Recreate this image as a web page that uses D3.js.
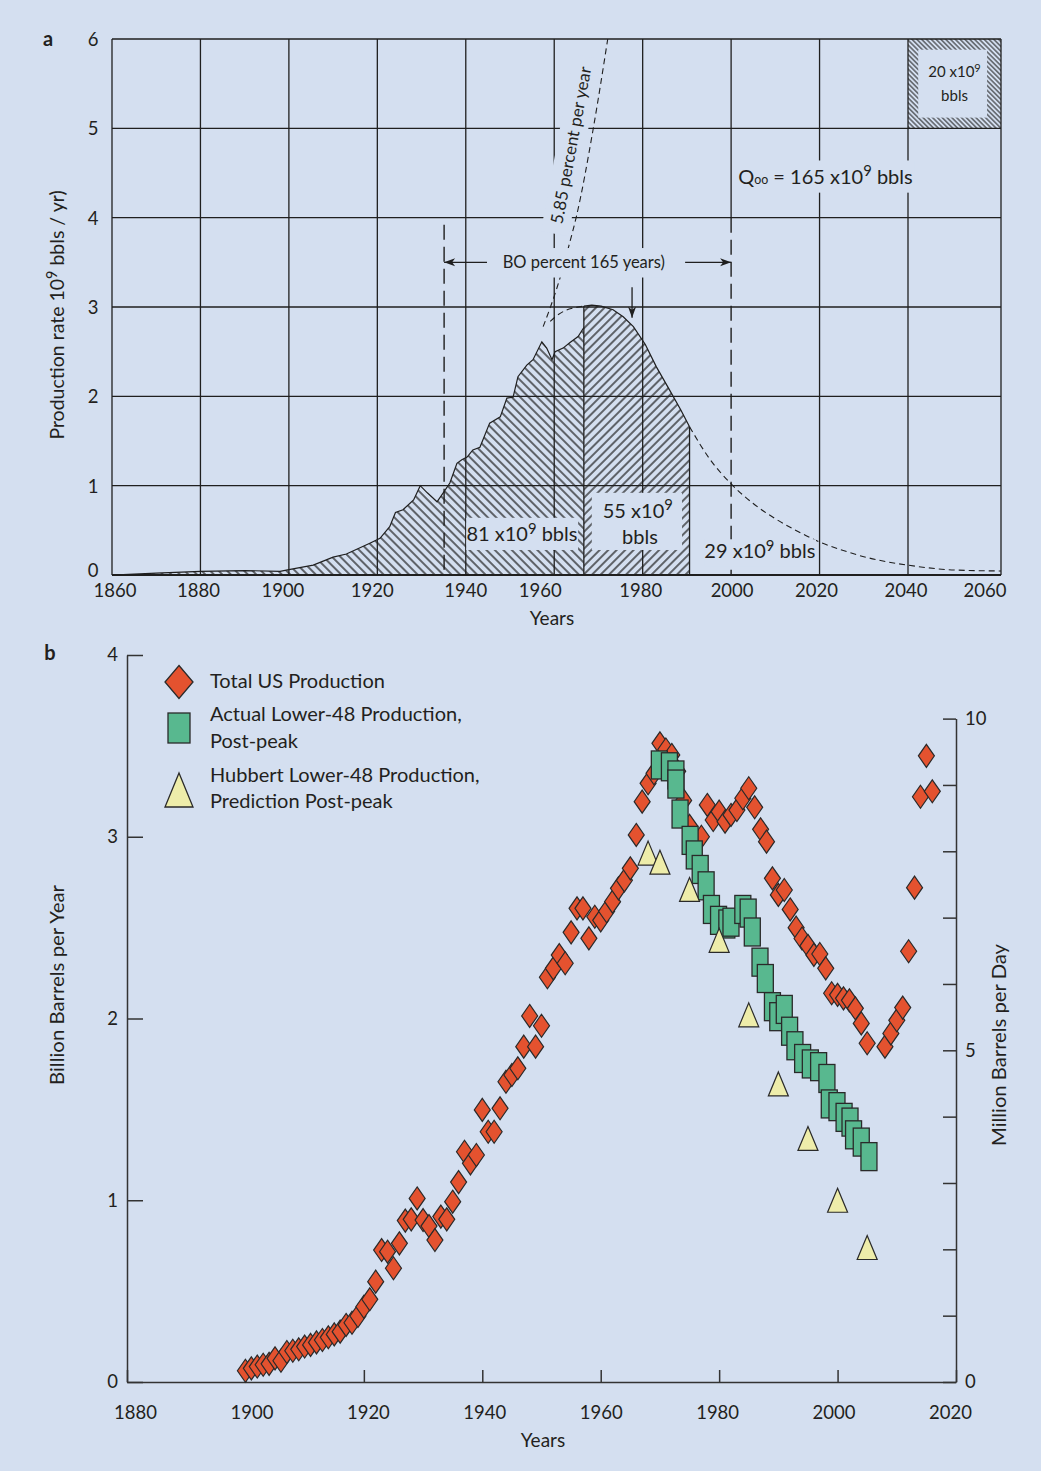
<!DOCTYPE html>
<html lang="en">
<head>
<meta charset="utf-8">
<title>US oil production and the Hubbert curve</title>
<script src="https://cdn.jsdelivr.net/npm/d3@7/dist/d3.min.js"></script>
<style>
  html, body { margin: 0; padding: 0; background: #ffffff; }
  svg { display: block; }
  text { font-family: Lato, "Noto Sans", "DejaVu Sans", sans-serif; fill: #231f20; }
</style>
</head>
<body>
<svg id="figure" width="1041" height="1471"></svg>
<script>
// ---------- Panel a: production rate and Hubbert's projection ----------
const gridYears = [1860, 1880, 1900, 1920, 1940, 1960, 1980, 2000, 2020, 2040, 2060];
const rateTicks = [0, 1, 2, 3, 4, 5, 6];

// historical production rate (10^9 bbl/yr), upper edge of the first hatched area
const histYears = [1860, 1870, 1880, 1890, 1898, 1900, 1905.5, 1910, 1913, 1918.3, 1920.6, 1922.8, 1924.1,
  1925.8, 1928.2, 1929.7, 1931.3, 1933.5, 1934.9, 1936.4, 1938, 1939.1, 1940.3, 1941.6, 1943.2, 1945.4,
  1947.8, 1949.3, 1950.7, 1951.8, 1953.8, 1955.2, 1957.2, 1958.3, 1959.5, 1960.2, 1962, 1963.5, 1965.4, 1966.7];
const histRates = [0, 0.02, 0.04, 0.05, 0.04, 0.06, 0.11, 0.2, 0.235, 0.355, 0.41, 0.54, 0.7,
  0.73, 0.84, 1.0, 0.92, 0.82, 0.92, 1.03, 1.25, 1.29, 1.32, 1.4, 1.43, 1.7,
  1.77, 1.98, 1.99, 2.22, 2.35, 2.41, 2.61, 2.54, 2.41, 2.5, 2.54, 2.6, 2.67, 2.77];

// fitted curve, solid part bounding the second hatched area
const fitYears = [1966.7, 1968.5, 1970.6, 1973.3, 1975.6, 1977.9, 1980.6, 1983.1, 1986.1, 1988.6, 1990.6];
const fitRates = [3.01, 3.02, 3.01, 2.97, 2.89, 2.78, 2.58, 2.33, 2.07, 1.85, 1.66];

// projected decline (dashed)
const declineYears = [1990.6, 1995, 2000, 2005, 2010, 2015, 2020, 2025, 2030, 2035, 2040, 2050, 2060];
const declineRates = [1.66, 1.31, 1.02, 0.80, 0.63, 0.49, 0.37, 0.28, 0.205, 0.15, 0.11, 0.056, 0.045];

// fitted curve over the peak (dashed)
const domeYears = [1959.1, 1960.5, 1962.5, 1964.5, 1966.7];
const domeRates = [2.84, 2.9, 2.96, 2.99, 3.01];

// 5.85 percent per year growth line (dashed)
const growthYears = [1957.5, 1961.4, 1963.5, 1965, 1968.8, 1972.1];
const growthRates = [2.78, 3.34, 3.72, 4.01, 4.99, 6.0];

// ---------- Panel b: US production vs Hubbert's lower-48 prediction ----------
const totalYears = [1900, 1901, 1902, 1903, 1904, 1905, 1906, 1907, 1908, 1909, 1910, 1911, 1912, 1913, 1914,
  1915, 1916, 1917, 1918, 1919, 1920, 1921, 1922, 1923, 1924, 1925, 1926, 1927, 1928, 1929, 1930, 1931,
  1932, 1933, 1934, 1935, 1936, 1937, 1938, 1939, 1940, 1941, 1942, 1943, 1944, 1945, 1946, 1947, 1948,
  1949, 1950, 1951, 1952, 1953, 1954, 1955, 1956, 1957, 1958, 1959, 1960, 1961, 1962, 1963, 1964, 1965,
  1966, 1967, 1968, 1969, 1970, 1971, 1972, 1973, 1974, 1975, 1976, 1977, 1978, 1979, 1980, 1981, 1982,
  1983, 1984, 1985, 1986, 1987, 1988, 1989, 1990, 1991, 1992, 1993, 1994, 1995, 1996, 1997, 1998, 1999,
  2000, 2001, 2002, 2003, 2004, 2005, 2008, 2009, 2010, 2011, 2012, 2013, 2014, 2015, 2016];
const totalBbl = [0.062, 0.075, 0.085, 0.095, 0.10, 0.13, 0.117, 0.165, 0.172, 0.18, 0.195, 0.204, 0.218, 0.231, 0.246,
  0.262, 0.277, 0.314, 0.326, 0.363, 0.414, 0.455, 0.552, 0.726, 0.717, 0.626, 0.763, 0.888, 0.895, 1.01, 0.891, 0.858,
  0.781, 0.91, 0.895, 0.992, 1.10, 1.267, 1.203, 1.249, 1.497, 1.377, 1.377, 1.506, 1.652, 1.689, 1.726, 1.845, 2.014,
  1.845, 1.96, 2.227, 2.276, 2.349, 2.304, 2.474, 2.606, 2.606, 2.441, 2.56, 2.54, 2.59, 2.643, 2.716, 2.76, 2.826,
  3.01, 3.193, 3.294, 3.349, 3.514, 3.48, 3.45, 3.36, 3.20, 3.06, 2.98, 3.00, 3.175, 3.092, 3.138, 3.083, 3.12,
  3.147, 3.212, 3.267, 3.162, 3.041, 2.973, 2.771, 2.68, 2.707, 2.60, 2.50, 2.44, 2.40, 2.35, 2.355, 2.276, 2.139,
  2.13, 2.111, 2.10, 2.056, 1.973, 1.864, 1.845, 1.918, 1.99, 2.06, 2.37, 2.72, 3.22, 3.445, 3.25];

const lower48Years = [1969.9, 1971.6, 1972.7, 1972.7, 1973.4, 1975.1, 1975.8, 1976.8, 1977.8, 1978.7, 1979.9,
  1981.3, 1982.0, 1984.0, 1984.9, 1985.6, 1986.9, 1987.8, 1989.0, 1989.9, 1991.0, 1991.9, 1992.8, 1994.1,
  1995.4, 1996.8, 1998.2, 1998.6, 1999.9, 2001.1, 2002.1, 2002.7, 2004.0, 2005.3];
const lower48Bbl = [3.395, 3.385, 3.34, 3.29, 3.125, 2.98, 2.90, 2.82, 2.73, 2.60, 2.54,
  2.52, 2.53, 2.60, 2.58, 2.476, 2.31, 2.22, 2.065, 2.01, 2.05, 1.93, 1.85, 1.78,
  1.75, 1.735, 1.67, 1.53, 1.515, 1.456, 1.43, 1.36, 1.32, 1.24];

const hubbertYears = [1968, 1970, 1975, 1980, 1985, 1990, 1995, 2000, 2005];
const hubbertBbl = [2.91, 2.86, 2.71, 2.43, 2.02, 1.64, 1.34, 1.00, 0.74];

const yearTicksB = [1880, 1900, 1920, 1940, 1960, 1980, 2000, 2020];
const bblTicks = [0, 1, 2, 3, 4];
const mbdTicks = [0, 1, 2, 3, 4, 5, 6, 7, 8, 9, 10];

// ---------- drawing ----------
const BG = "#d4dff0", INK = "#1f1f1f";
const svg = d3.select("#figure");
svg.append("rect").attr("width", 1041).attr("height", 1471).attr("fill", BG);

const defs = svg.append("defs");
function addHatch(id, gap, angle, width) {
  const p = defs.append("pattern").attr("id", id)
    .attr("patternUnits", "userSpaceOnUse")
    .attr("width", gap).attr("height", 10)
    .attr("patternTransform", `rotate(${angle})`);
  p.append("line").attr("x1", gap / 2).attr("x2", gap / 2).attr("y1", -1).attr("y2", 11)
    .attr("stroke", INK).attr("stroke-width", width);
}
addHatch("hatch-back", 6.0, -45, 1.3);
addHatch("hatch-fwd", 6.0, 45, 1.3);
addHatch("hatch-fine", 3.4, -45, 1.0);

// text with superscripts / small runs
function richText(g, x, y, parts, size, anchor = "middle") {
  const t = g.append("text").attr("x", x).attr("y", y)
    .attr("font-size", size).attr("text-anchor", anchor);
  let shift = 0;
  parts.forEach(([s, kind]) => {
    const ts = t.append("tspan").text(s);
    if (kind === "sup") {
      const d = -0.36 * size;
      ts.attr("font-size", size * 0.74).attr("dy", d - shift);
      shift = d;
    } else if (kind === "small") {
      ts.attr("font-size", size * 0.62).attr("dy", -shift);
      shift = 0;
    } else {
      ts.attr("dy", -shift);
      shift = 0;
    }
  });
  return t;
}

// ===== Panel a =====
// the last column (2040-2060) is drawn slightly wider than the others
const xA = d3.scaleLinear().domain([1860, 2040, 2060]).range([112, 908, 1001]);
const yA = d3.scaleLinear().domain([0, 6]).range([575, 39]);
const a = svg.append("g");

const histPts = d3.zip(histYears, histRates);
const fitPts = d3.zip(fitYears, fitRates);
const areaA = d3.area().x(d => xA(d[0])).y0(yA(0)).y1(d => yA(d[1]));
const lineA = d3.line().x(d => xA(d[0])).y(d => yA(d[1]));

a.append("path").attr("d", areaA(histPts)).attr("fill", "url(#hatch-back)");
a.append("path").attr("d", areaA(fitPts)).attr("fill", "url(#hatch-fwd)");
a.append("rect")
  .attr("x", xA(2040)).attr("y", yA(6))
  .attr("width", xA(2060) - xA(2040)).attr("height", yA(5) - yA(6))
  .attr("fill", "url(#hatch-fine)");

// grid
a.append("g").selectAll("line").data(rateTicks).join("line")
  .attr("x1", xA(1860)).attr("x2", xA(2060))
  .attr("y1", d => yA(d)).attr("y2", d => yA(d))
  .attr("stroke", INK).attr("stroke-width", d => d === 0 ? 2 : 1.3);
a.append("g").selectAll("line").data(gridYears).join("line")
  .attr("x1", d => xA(d)).attr("x2", d => xA(d))
  .attr("y1", yA(6)).attr("y2", d => d === 2000 ? yA(4) : yA(0))
  .attr("stroke", INK).attr("stroke-width", 1.3);

// window limits (long dashes)
const windowLimits = [[1935.1, 3.92], [2000, 4.0]];
a.append("g").selectAll("line").data(windowLimits).join("line")
  .attr("x1", d => xA(d[0])).attr("x2", d => xA(d[0]))
  .attr("y1", d => yA(d[1])).attr("y2", yA(0))
  .attr("stroke", INK).attr("stroke-width", 1.4).attr("stroke-dasharray", "15,7");

// outlines of the hatched areas
a.append("path").attr("d", lineA(histPts)).attr("fill", "none").attr("stroke", INK).attr("stroke-width", 1.2);
a.append("path").attr("d", lineA(fitPts)).attr("fill", "none").attr("stroke", INK).attr("stroke-width", 1.2);
a.append("line").attr("x1", xA(fitYears[0])).attr("x2", xA(fitYears[0]))
  .attr("y1", yA(fitRates[0])).attr("y2", yA(0)).attr("stroke", INK).attr("stroke-width", 1.3);
const lastFit = fitYears.length - 1;
a.append("line").attr("x1", xA(fitYears[lastFit])).attr("x2", xA(fitYears[lastFit]))
  .attr("y1", yA(fitRates[lastFit])).attr("y2", yA(0)).attr("stroke", INK).attr("stroke-width", 1.3);

// dashed curves
const smoothA = d3.line().x(d => xA(d[0])).y(d => yA(d[1])).curve(d3.curveMonotoneX);
[[declineYears, declineRates], [domeYears, domeRates], [growthYears, growthRates]].forEach(([ys, vs]) => {
  a.append("path").attr("d", smoothA(d3.zip(ys, vs)))
    .attr("fill", "none").attr("stroke", INK).attr("stroke-width", 1.1).attr("stroke-dasharray", "6,4");
});

// label boxes (background colour over grid / hatching)
function bgBox(g, y0, y1, v0, v1) {
  g.append("rect").attr("x", xA(y0)).attr("y", yA(v1))
    .attr("width", xA(y1) - xA(y0)).attr("height", yA(v0) - yA(v1)).attr("fill", BG);
}
bgBox(a, 1940.1, 1965.4, 0.28, 0.64);
bgBox(a, 1968.5, 1988.9, 0.28, 0.92);
bgBox(a, 1993.9, 2019.2, 0.10, 0.40);
bgBox(a, 2001.1, 2041.5, 4.28, 4.64);
bgBox(a, 1947.3, 1986.2, 3.33, 3.66);
bgBox(a, 2042.2, 2057.0, 5.12, 5.88);

richText(a, xA(1952.7), yA(0.46) + 7, [["81 x10"], ["9", "sup"], [" bbls"]], 20);
richText(a, xA(1978.9), yA(0.72) + 7, [["55 x10"], ["9", "sup"]], 20);
richText(a, xA(1979.4), yA(0.43) + 7, [["bbls"]], 20);
richText(a, xA(2006.5), yA(0.27) + 7, [["29 x10"], ["9", "sup"], [" bbls"]], 20);
richText(a, xA(2001.6), yA(4.46) + 7, [["Q"], ["oo", "small"], [" = 165 x10"], ["9", "sup"], [" bbls"]], 20, "start");
richText(a, xA(2050), yA(5.63) + 5, [["20 x10"], ["9", "sup"]], 15);
richText(a, xA(2050), yA(5.36) + 5, [["bbls"]], 15);
richText(a, xA(1966.7), yA(3.5) + 6, [["BO percent 165 years)"]], 16.5);

// arrows
const arrowHead = (x, y, dir) => {
  const p = dir === "left" ? `M${x},${y}L${x + 11},${y - 4}L${x + 8},${y}L${x + 11},${y + 4}Z`
    : dir === "right" ? `M${x},${y}L${x - 11},${y - 4}L${x - 8},${y}L${x - 11},${y + 4}Z`
    : `M${x},${y}L${x - 4},${y - 11}L${x},${y - 8}L${x + 4},${y - 11}Z`;
  a.append("path").attr("d", p).attr("fill", INK);
};
const arrowY = yA(3.5);
a.append("line").attr("x1", xA(1935.1)).attr("x2", xA(1944.8)).attr("y1", arrowY).attr("y2", arrowY)
  .attr("stroke", INK).attr("stroke-width", 1.3);
arrowHead(xA(1935.1), arrowY, "left");
a.append("line").attr("x1", xA(1989.6)).attr("x2", xA(2000)).attr("y1", arrowY).attr("y2", arrowY)
  .attr("stroke", INK).attr("stroke-width", 1.3);
arrowHead(xA(2000), arrowY, "right");
a.append("line").attr("x1", xA(1977.6)).attr("x2", xA(1977.6)).attr("y1", yA(3.22)).attr("y2", yA(2.88))
  .attr("stroke", INK).attr("stroke-width", 1.3);
arrowHead(xA(1977.6), yA(2.88), "down");

// rotated growth label
const gl = a.append("g").attr("transform", `translate(${xA(1963.8)},${yA(4.81)}) rotate(-79.5)`);
gl.append("rect").attr("x", -90).attr("y", -14).attr("width", 180).attr("height", 28).attr("fill", BG);
gl.append("text").attr("text-anchor", "middle").attr("dy", "0.35em").attr("font-size", 17)
  .text("5.85 percent per year");

// tick labels
const nudgeA = { 1860: 3, 1880: -2, 1900: -6, 1920: -5, 1940: 0, 1960: -14, 1980: -2, 2000: 1, 2020: -3, 2040: -2, 2060: -16 };
a.append("g").selectAll("text").data(gridYears).join("text")
  .attr("x", d => xA(d) + nudgeA[d]).attr("y", yA(0) + 22)
  .attr("text-anchor", "middle").attr("font-size", 18.5).text(d => d);
a.append("g").selectAll("text").data(rateTicks).join("text")
  .attr("x", xA(1860) - 19).attr("y", d => yA(d) + (d === 0 ? 2 : 7))
  .attr("text-anchor", "middle").attr("font-size", 18.5).text(d => d);

a.append("text").attr("x", 552).attr("y", 625).attr("text-anchor", "middle").attr("font-size", 19).text("Years");
const yl = a.append("g").attr("transform", "translate(64,315) rotate(-90)");
richText(yl, 0, 0, [["Production rate 10"], ["9", "sup"], [" bbls / yr)"]], 19.5);
a.append("text").attr("x", 48).attr("y", 46).attr("text-anchor", "middle")
  .attr("font-size", 20).attr("font-weight", "bold").text("a");

// ===== Panel b =====
const xB = d3.scaleLinear().domain([1880, 2020]).range([127, 956]);
const yB = d3.scaleLinear().domain([0, 4]).range([1382, 655]);
const yR = d3.scaleLinear().domain([0, 10]).range([1382, 1382 - 3.65 * (1382 - 655) / 4]);
const b = svg.append("g");

const axisStyle = g => {
  g.selectAll("path, line").attr("stroke", "#333").attr("stroke-width", 1.5);
  g.selectAll("text").attr("font-size", 18.5).attr("fill", "#231f20")
    .attr("font-family", 'Lato, "Noto Sans", sans-serif');
};

b.append("g").attr("transform", "translate(127,0)")
  .call(d3.axisLeft(yB).tickValues(bblTicks).tickSize(-16).tickSizeOuter(0).tickPadding(9).tickFormat(d3.format("d")))
  .call(axisStyle);
b.append("g").attr("transform", "translate(956,0)")
  .call(d3.axisRight(yR).tickValues(mbdTicks).tickSize(-13).tickSizeOuter(0).tickPadding(9)
    .tickFormat(d => d % 5 === 0 ? d : ""))
  .call(axisStyle);
b.append("g").attr("transform", "translate(0,1382)")
  .call(d3.axisBottom(xB).tickValues(yearTicksB).tickSize(-12).tickSizeOuter(0).tickPadding(24).tickFormat(d3.format("d")))
  .call(axisStyle)
  .call(g => g.selectAll(".tick text").attr("dx", d => (600 - xB(d)) * 0.017));

// markers
const diamond = (w, h) => `M0,${-h / 2}L${w / 2},0L0,${h / 2}L${-w / 2},0Z`;
const triangle = (w, h) => `M0,${-h / 2}L${w / 2},${h / 2}L${-w / 2},${h / 2}Z`;
const RED = "#e4522f", GREEN = "#58b88f", YELLOW = "#eeedaa", EDGE = "#2a2a2a";

b.append("g").selectAll("path").data(d3.zip(totalYears, totalBbl)).join("path")
  .attr("transform", d => `translate(${xB(d[0])},${yB(d[1])})`)
  .attr("d", diamond(16, 23)).attr("fill", RED).attr("stroke", EDGE).attr("stroke-width", 1.2);
b.append("g").selectAll("rect").data(d3.zip(lower48Years, lower48Bbl)).join("rect")
  .attr("x", d => xB(d[0]) - 8).attr("y", d => yB(d[1]) - 14)
  .attr("width", 16).attr("height", 28)
  .attr("fill", GREEN).attr("stroke", EDGE).attr("stroke-width", 1.3);
b.append("g").selectAll("path").data(d3.zip(hubbertYears, hubbertBbl)).join("path")
  .attr("transform", d => `translate(${xB(d[0])},${yB(d[1])})`)
  .attr("d", triangle(20, 24)).attr("fill", YELLOW).attr("stroke", EDGE).attr("stroke-width", 1.2);

// legend
const lg = b.append("g");
lg.append("path").attr("transform", "translate(179,682)").attr("d", diamond(28, 33))
  .attr("fill", RED).attr("stroke", EDGE).attr("stroke-width", 1.3);
lg.append("rect").attr("x", 168).attr("y", 713).attr("width", 22).attr("height", 30)
  .attr("fill", GREEN).attr("stroke", EDGE).attr("stroke-width", 1.3);
lg.append("path").attr("transform", "translate(179,790)").attr("d", triangle(28, 34))
  .attr("fill", YELLOW).attr("stroke", EDGE).attr("stroke-width", 1.3);
const legendLines = [
  ["Total US Production", 688],
  ["Actual Lower-48 Production,", 721],
  ["Post-peak", 748],
  ["Hubbert Lower-48 Production,", 782],
  ["Prediction Post-peak", 808]
];
lg.selectAll("text").data(legendLines).join("text")
  .attr("x", 210).attr("y", d => d[1]).attr("font-size", 20).text(d => d[0]);

// axis titles
b.append("text").attr("x", 543).attr("y", 1447).attr("text-anchor", "middle").attr("font-size", 19).text("Years");
b.append("text").attr("transform", "translate(64,985) rotate(-90)").attr("text-anchor", "middle")
  .attr("font-size", 19).attr("textLength", 200).attr("lengthAdjust", "spacingAndGlyphs")
  .text("Billion Barrels per Year");
b.append("text").attr("transform", "translate(1006,1045) rotate(-90)").attr("text-anchor", "middle")
  .attr("font-size", 19).attr("textLength", 202).attr("lengthAdjust", "spacingAndGlyphs")
  .text("Million Barrels per Day");
b.append("text").attr("x", 50).attr("y", 660).attr("text-anchor", "middle")
  .attr("font-size", 20).attr("font-weight", "bold").text("b");
</script>
</body>
</html>
